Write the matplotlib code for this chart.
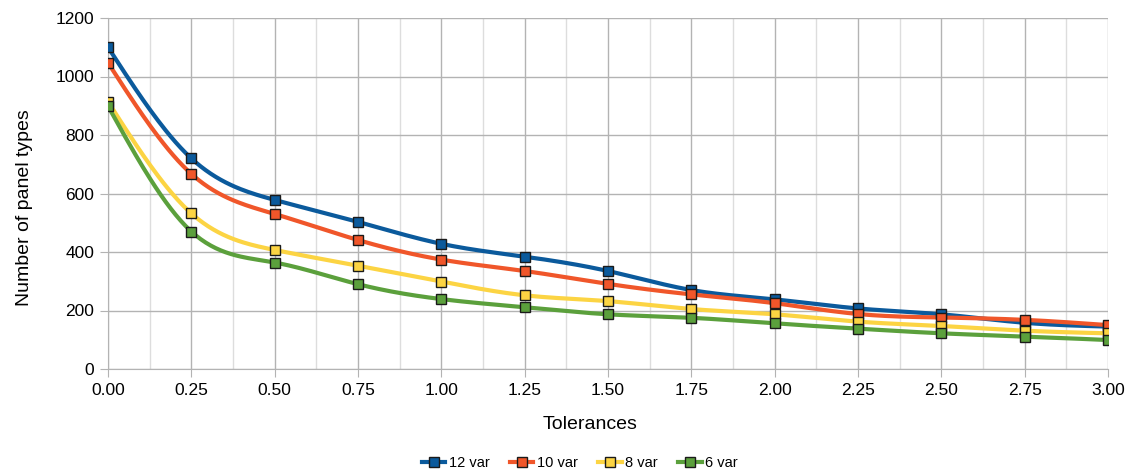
import numpy as np
import matplotlib
matplotlib.use("Agg")
import matplotlib.pyplot as plt
from matplotlib.ticker import MultipleLocator, FormatStrFormatter

plt.rcParams['font.family'] = ['Liberation Sans', 'DejaVu Sans']

tolerances = [0.00, 0.25, 0.50, 0.75, 1.00, 1.25, 1.50, 1.75, 2.00, 2.25, 2.50, 2.75, 3.00]
var12 = [1100, 720, 578, 503, 428, 384, 335, 270, 238, 207, 187, 158, 145]
var10 = [1047, 667, 530, 441, 374, 335, 291, 255, 225, 188, 176, 168, 150]
var8 = [914, 532, 407, 353, 299, 252, 232, 205, 187, 162, 147, 131, 122]
var6 = [899, 470, 364, 290, 239, 211, 187, 175, 156, 138, 122, 111, 99]

series_names = ["12 var", "10 var", "8 var", "6 var"]
series_colors = ["#0b5a9c", "#f0562a", "#fcd443", "#5ba03c"]


def natural_spline(x, y, n=400):
    """Natural cubic spline through the points, sampled for a smooth curve."""
    x = np.asarray(x, float)
    y = np.asarray(y, float)
    k = len(x)
    h = np.diff(x)
    A = np.zeros((k, k))
    b = np.zeros(k)
    A[0, 0] = A[-1, -1] = 1.0
    for i in range(1, k - 1):
        A[i, i - 1] = h[i - 1]
        A[i, i] = 2 * (h[i - 1] + h[i])
        A[i, i + 1] = h[i]
        b[i] = 3 * ((y[i + 1] - y[i]) / h[i] - (y[i] - y[i - 1]) / h[i - 1])
    c = np.linalg.solve(A, b)
    xs = np.linspace(x[0], x[-1], n)
    idx = np.clip(np.searchsorted(x, xs, side="right") - 1, 0, k - 2)
    dx = xs - x[idx]
    bb = (y[idx + 1] - y[idx]) / h[idx] - h[idx] * (2 * c[idx] + c[idx + 1]) / 3
    dd = (c[idx + 1] - c[idx]) / (3 * h[idx])
    ys = y[idx] + bb * dx + c[idx] * dx ** 2 + dd * dx ** 3
    return xs, ys


fig = plt.figure(figsize=(11.33, 4.74), dpi=100)
ax = fig.add_axes([108 / 1133, (474 - 369) / 474, 1000 / 1133, 351 / 474])

for name, vals, col in zip(series_names, [var12, var10, var8, var6], series_colors):
    xs, ys = natural_spline(tolerances, vals)
    ax.plot(xs, ys, color=col, lw=3.0, solid_capstyle="round", zorder=3)
    ax.plot(tolerances, vals, ls="none", marker="s", ms=7.5, mfc=col,
            mec="#1a1a1a", mew=1.0, zorder=4)
    ax.plot([], [], color=col, lw=3.0, marker="s", ms=7.5, mfc=col,
            mec="#1a1a1a", mew=1.0, label=name)

ax.set_xlim(0, 3)
ax.set_ylim(0, 1200)
ax.xaxis.set_major_locator(MultipleLocator(0.25))
ax.xaxis.set_minor_locator(MultipleLocator(0.125))
ax.yaxis.set_major_locator(MultipleLocator(200))
ax.xaxis.set_major_formatter(FormatStrFormatter("%.2f"))

ax.grid(which="major", color="#b3b3b3", lw=1.0)
ax.grid(which="minor", axis="x", color="#dddddd", lw=1.0)
ax.set_axisbelow(True)

for s in ["top", "right"]:
    ax.spines[s].set_visible(False)
for s in ["left", "bottom"]:
    ax.spines[s].set_color("#b3b3b3")

ax.tick_params(which="major", length=6, color="#b3b3b3", labelsize=12.5,
               labelcolor="#000000", pad=4)
ax.tick_params(which="minor", length=0)

ax.set_xlabel("Tolerances", fontsize=14)
ax.set_ylabel("Number of panel types", fontsize=14)
ax.xaxis.set_label_coords(0.482, -0.135)
ax.yaxis.set_label_coords(-0.075, 0.46)

fig.legend(loc="center", bbox_to_anchor=(580 / 1133, 1 - 463 / 474), ncol=4,
           frameon=False, fontsize=10.5, handlelength=1.6, handletextpad=0.25,
           columnspacing=1.4)

fig.savefig("out.png", dpi=100)
